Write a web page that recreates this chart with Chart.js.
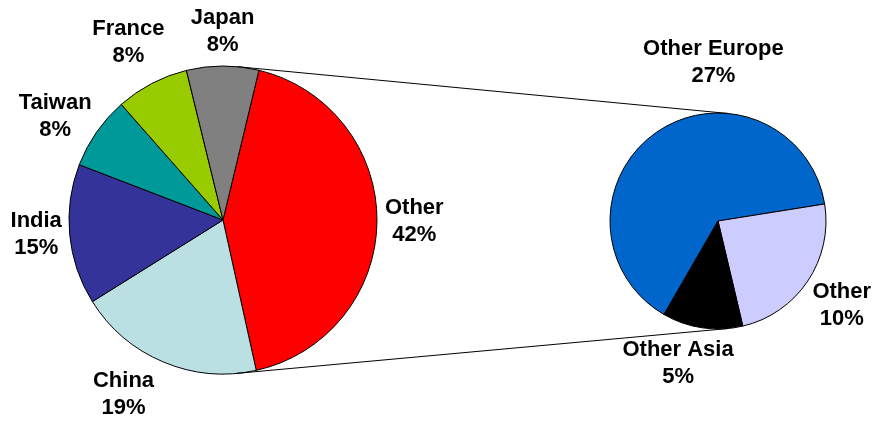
<!DOCTYPE html>
<html>
<head>
<meta charset="utf-8">
<script src="https://cdn.jsdelivr.net/npm/chart.js@4/dist/chart.umd.min.js"></script>
<style>
html, body { margin: 0; padding: 0; background: #ffffff; }
#wrap { position: relative; width: 878px; height: 422px; overflow: hidden; }
#wrap canvas { position: absolute; left: 0; top: 0; }
</style>
</head>
<body>
<div id="wrap">
  <canvas id="mainPie" width="878" height="422"></canvas>
  <canvas id="detailPie" width="878" height="422"></canvas>
</div>
<script>
// ---------------- data ----------------
const detailCategories = ['Other Europe', 'Other', 'Other Asia'];
const detailValues = [27.2, 10.1, 5.1];

const mainCategories = ['Other', 'China', 'India', 'Taiwan', 'France', 'Japan'];
const namedCountryValues = [19.4, 14.6, 7.6, 7.6, 7.5]; // China, India, Taiwan, France, Japan
const otherValue = detailValues.reduce((a, b) => a + b, 0);
const mainValues = [otherValue, ...namedCountryValues];

// ---------------- style ----------------
const mainColors = ['#FF0000', '#BBE0E3', '#333399', '#009999', '#99CC00', '#808080'];
const detailColors = ['#0066CC', '#CCCCFF', '#000000'];

const labelStyle = {
  font: 'bold 22px "Liberation Sans", Arial, sans-serif',
  lineHeight: 27,
  pad: 8,
  color: '#000000'
};
// small manual nudges of label blocks (px), like hand-placed labels in the original
const mainLabelNudge = [[0, 0], [-25, 0], [0, -4], [-5, 4], [-3, -10], [0, 0]];
const detailLabelNudge = [[101, -41], [3, 5], [-15, 1]];

function makeLabelPlugin(id, cats, vals, nudges) {
  return {
    id: id,
    afterDraw(chart) {
      const ctx = chart.ctx;
      const meta = chart.getDatasetMeta(0);
      ctx.save();
      ctx.font = labelStyle.font;
      ctx.fillStyle = labelStyle.color;
      ctx.textAlign = 'center';
      ctx.textBaseline = 'middle';
      meta.data.forEach((arc, i) => {
        const p = arc.getProps(['x', 'y', 'startAngle', 'endAngle', 'outerRadius'], true);
        const mid = (p.startAngle + p.endAngle) / 2;
        const dx = Math.cos(mid), dy = Math.sin(mid);
        const lines = [cats[i], Math.round(vals[i]) + '%'];
        const w = Math.max(...lines.map(t => ctx.measureText(t).width));
        const h = lines.length * labelStyle.lineHeight;
        const r = p.outerRadius + labelStyle.pad;
        const cx = p.x + dx * r + dx * w / 2 + nudges[i][0];
        const cy = p.y + dy * r + dy * h / 2 + nudges[i][1];
        lines.forEach((t, j) => {
          ctx.fillText(t, cx, cy + (j - (lines.length - 1) / 2) * labelStyle.lineHeight);
        });
      });
      ctx.restore();
    }
  };
}

const commonOptions = {
  responsive: false,
  devicePixelRatio: 1,
  animation: false,
  events: [],
  plugins: { legend: { display: false }, tooltip: { enabled: false } }
};

const mainChart = new Chart(document.getElementById('mainPie'), {
  type: 'pie',
  data: {
    labels: mainCategories,
    datasets: [{
      data: mainValues,
      backgroundColor: mainColors,
      borderColor: '#000000',
      borderWidth: 1
    }]
  },
  options: Object.assign({}, commonOptions, {
    rotation: 13.5,
    radius: 154,
    layout: { padding: { left: 0, right: 432, top: 18, bottom: 0 } }
  }),
  plugins: [makeLabelPlugin('mainLabels', mainCategories, mainValues, mainLabelNudge)]
});

// connector lines: common outer tangents of the two pies
const connectorPlugin = {
  id: 'connectors',
  afterDraw(chart) {
    const a = mainChart.getDatasetMeta(0).data[0].getProps(['x', 'y', 'outerRadius'], true);
    const b = chart.getDatasetMeta(0).data[0].getProps(['x', 'y', 'outerRadius'], true);
    const vx = b.x - a.x, vy = b.y - a.y;
    const D = Math.hypot(vx, vy);
    const ux = vx / D, uy = vy / D;
    const px = -uy, py = ux;
    const k = (b.outerRadius - a.outerRadius) / D;
    const q = Math.sqrt(1 - k * k);
    const ctx = chart.ctx;
    ctx.save();
    ctx.strokeStyle = '#000000';
    ctx.lineWidth = 1;
    [1, -1].forEach(s => {
      const nx = k * ux + s * q * px, ny = k * uy + s * q * py;
      ctx.beginPath();
      ctx.moveTo(a.x - a.outerRadius * nx, a.y - a.outerRadius * ny);
      ctx.lineTo(b.x - b.outerRadius * nx, b.y - b.outerRadius * ny);
      ctx.stroke();
    });
    ctx.restore();
  }
};

const detailChart = new Chart(document.getElementById('detailPie'), {
  type: 'pie',
  data: {
    labels: detailCategories,
    datasets: [{
      data: detailValues,
      backgroundColor: detailColors,
      borderColor: '#000000',
      borderWidth: 1
    }]
  },
  options: Object.assign({}, commonOptions, {
    rotation: 210,
    radius: 108,
    layout: { padding: { left: 558, right: 0, top: 20, bottom: 0 } }
  }),
  plugins: [connectorPlugin, makeLabelPlugin('detailLabels', detailCategories, detailValues, detailLabelNudge)]
});
</script>
</body>
</html>
